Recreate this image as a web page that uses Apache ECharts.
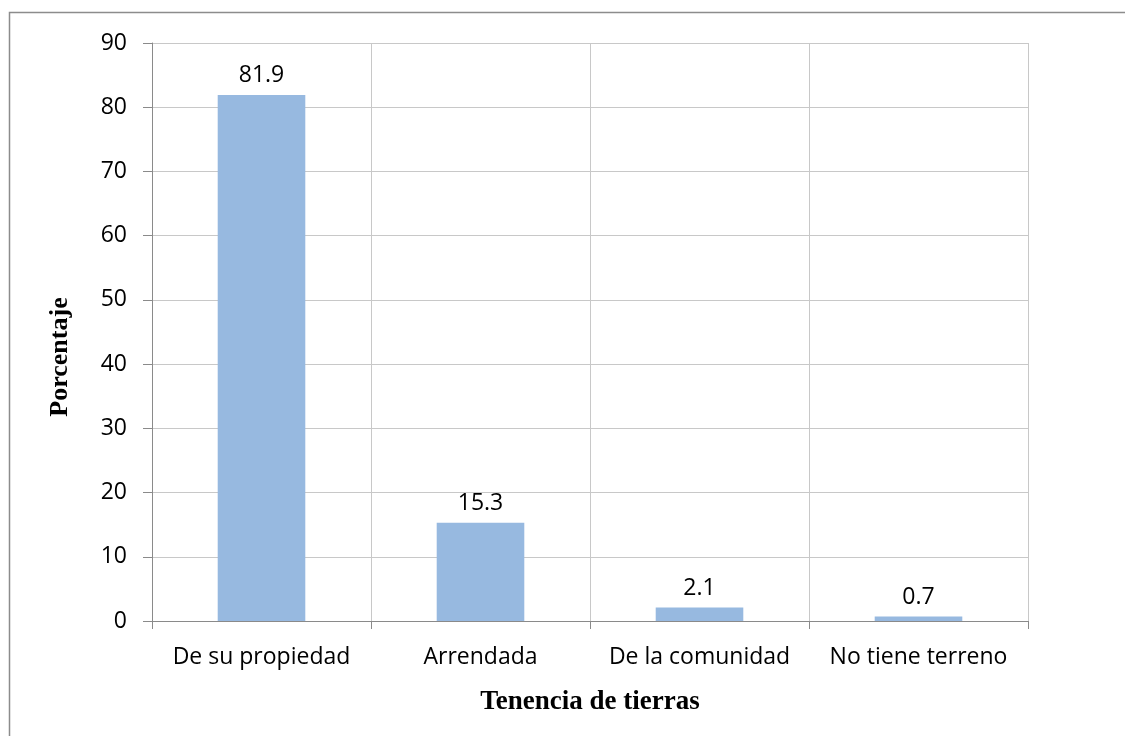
<!DOCTYPE html>
<html>
<head>
<meta charset="utf-8">
<script src="https://cdn.jsdelivr.net/npm/echarts@6/dist/echarts.min.js"></script>
<style>
  html, body { margin: 0; padding: 0; background: #fff; }
  #chart { width: 1125px; height: 736px; }
</style>
</head>
<body>
<div id="chart"></div>
<script>
// Land tenure shares (%)
const categories = ['De su propiedad', 'Arrendada', 'De la comunidad', 'No tiene terreno'];
const porcentajes = [81.9, 15.3, 2.1, 0.7];
const yTicks = { min: 0, max: 90, interval: 10 };
const yTitle = 'Porcentaje';
const xTitle = 'Tenencia de tierras';

const chart = echarts.init(document.getElementById('chart'));
const labelFont = '"Open Sans", "DejaVu Sans", sans-serif';
const titleFont = '"Liberation Serif", "DejaVu Serif", serif';

chart.setOption({
  animation: false,
  backgroundColor: '#ffffff',
  graphic: [
    {
      // outer frame of the chart area
      type: 'rect',
      shape: { x: 9.5, y: 12.5, width: 1200, height: 800 },
      style: { fill: 'none', stroke: '#8c8c8c', lineWidth: 1.5 },
      silent: true
    },
    {
      // vertical axis title
      type: 'text',
      x: 60,
      y: 357,
      rotation: Math.PI / 2,
      style: {
        text: yTitle,
        fontFamily: titleFont,
        fontWeight: 'bold',
        fontSize: 26,
        fill: '#000',
        align: 'center',
        verticalAlign: 'middle'
      },
      silent: true
    }
  ],
  grid: { left: 152, right: 97, top: 43, bottom: 115, containLabel: false },
  xAxis: {
    type: 'category',
    data: categories,
    name: xTitle,
    nameLocation: 'middle',
    nameGap: 68,
    nameTextStyle: { fontFamily: titleFont, fontWeight: 'bold', fontSize: 27, color: '#000' },
    axisLine: { lineStyle: { color: '#8a8a8a', width: 1 } },
    axisTick: { show: true, interval: 0, length: 8, lineStyle: { color: '#8a8a8a' } },
    axisLabel: { interval: 0, hideOverlap: false, fontFamily: labelFont, fontSize: 23, color: '#000', margin: 25 },
    splitLine: { show: true, interval: 0, lineStyle: { color: '#c8c8c8', width: 1 } }
  },
  yAxis: {
    type: 'value',
    min: yTicks.min,
    max: yTicks.max,
    interval: yTicks.interval,
    axisLine: { show: true, lineStyle: { color: '#8a8a8a', width: 1 } },
    axisTick: { show: true, length: 9, lineStyle: { color: '#8a8a8a' } },
    axisLabel: { fontFamily: labelFont, fontSize: 23, color: '#000', margin: 25 },
    splitLine: { show: true, lineStyle: { color: '#c8c8c8', width: 1 } }
  },
  series: [{
    type: 'bar',
    data: porcentajes,
    barWidth: '40%',
    itemStyle: { color: '#97b9e0' },
    label: {
      show: true,
      position: 'top',
      distance: 8,
      fontFamily: labelFont,
      fontSize: 23,
      color: '#000',
      formatter: p => p.value.toFixed(1)
    }
  }]
});
</script>
</body>
</html>
